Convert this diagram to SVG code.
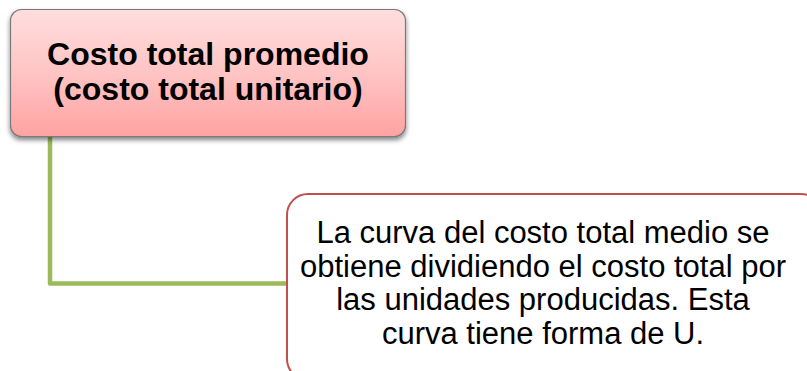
<svg xmlns="http://www.w3.org/2000/svg" width="807" height="371" viewBox="0 0 807 371">
<defs>
<linearGradient id="pink" x1="0" y1="0" x2="0" y2="1">
<stop offset="0" stop-color="#FFDEDE"/>
<stop offset="0.5" stop-color="#FFC4C4"/>
<stop offset="1" stop-color="#FFA2A2"/>
</linearGradient>
<filter id="shadow" x="-10%" y="-10%" width="120%" height="130%">
<feGaussianBlur in="SourceAlpha" stdDeviation="2.5"/>
<feOffset dx="0" dy="3" result="b"/>
<feComponentTransfer><feFuncA type="linear" slope="0.5"/></feComponentTransfer>
<feMerge><feMergeNode/><feMergeNode in="SourceGraphic"/></feMerge>
</filter>
</defs>
<style>
.t1{font-family:"Liberation Sans",Arial,sans-serif;font-weight:bold;font-size:32px;fill:#000;text-anchor:middle}
.t2{font-family:"Liberation Sans",Arial,sans-serif;font-size:31px;fill:#000;text-anchor:middle}
.conn{fill:none;stroke:#9BBB59;stroke-width:4.5;stroke-linejoin:round}
</style>
<rect width="807" height="371" fill="#fff"/>
<g id="connectors">
<path class="conn" d="M50,136 V283.5 H288"/>
</g>
<g id="node1">
<rect x="10.5" y="9.5" width="395" height="127" rx="11" fill="url(#pink)" stroke="#7A7A7A" stroke-width="1.2" filter="url(#shadow)"/>
<text class="t1" x="208" y="65">Costo total promedio</text>
<text class="t1" x="208" y="99.5">(costo total unitario)</text>
</g>
<g id="node2">
<rect x="287" y="194" width="535" height="186" rx="21" fill="#fff" stroke="#C0504D" stroke-width="2"/>
<text class="t2" x="543" y="243">La curva del costo total medio se</text>
<text class="t2" x="543" y="276.5">obtiene dividiendo el costo total por</text>
<text class="t2" x="543" y="310">las unidades producidas. Esta</text>
<text class="t2" x="543" y="343.5">curva tiene forma de U.</text>
</g>
</svg>
